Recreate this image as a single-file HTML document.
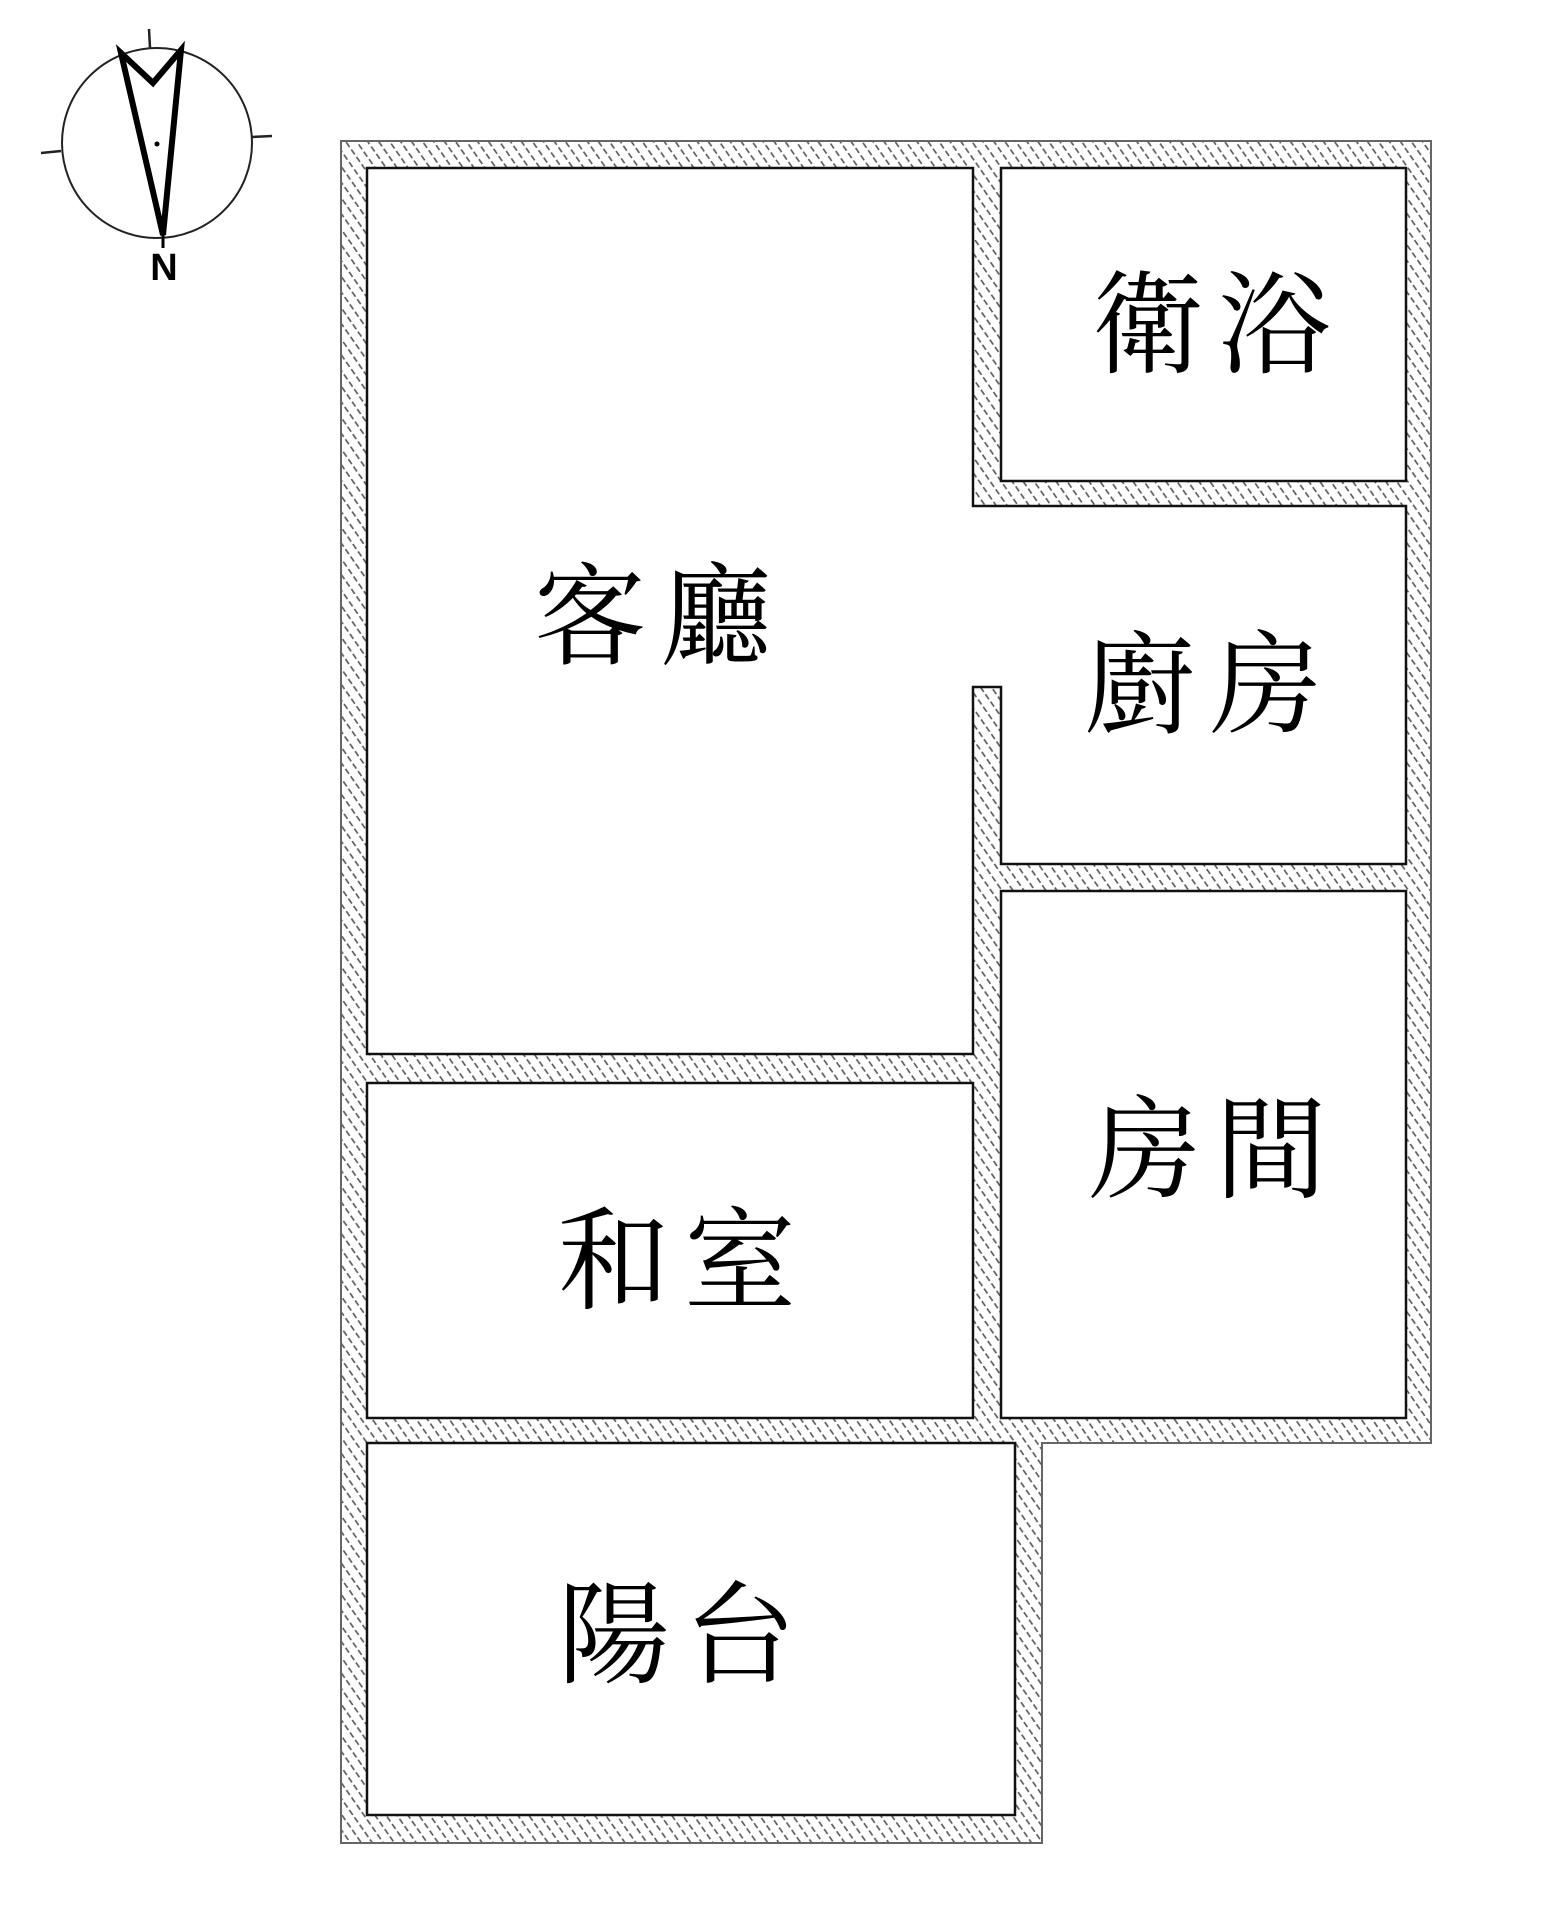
<!DOCTYPE html>
<html><head><meta charset="utf-8"><style>
html,body{margin:0;padding:0;background:#fff;}
svg{display:block;}
.lbl{font-family:"Liberation Serif","Noto Serif CJK SC",serif;font-size:112px;fill:#000;text-anchor:middle;dominant-baseline:central;letter-spacing:14px;}
</style></head><body>
<svg width="1542" height="1920" viewBox="0 0 1542 1920" xmlns="http://www.w3.org/2000/svg">
<defs>
<pattern id="h" width="9" height="9" patternUnits="userSpaceOnUse" patternTransform="rotate(-35)">
<rect width="9" height="9" fill="#fff"/>
<line x1="4" y1="0" x2="4" y2="6" stroke="#555" stroke-width="1.6"/>
</pattern>
</defs>
<path d="M341,141 H1431 V1443 H1042 V1843 H341 Z" fill="url(#h)" stroke="#666" stroke-width="2"/>
<path d="M367,168 H973 V506 H1406 V864 H1001 V687 H973 V1054 H367 Z" fill="#fff" stroke="#111" stroke-width="2.5"/>
<rect x="1001" y="168" width="405" height="313" fill="#fff" stroke="#111" stroke-width="2.5"/>
<rect x="1001" y="891" width="405" height="527" fill="#fff" stroke="#111" stroke-width="2.5"/>
<rect x="367" y="1083" width="606" height="335" fill="#fff" stroke="#111" stroke-width="2.5"/>
<rect x="367" y="1443" width="648" height="372" fill="#fff" stroke="#111" stroke-width="2.5"/>

<text class="lbl" x="1218" y="327">衛浴</text>
<text class="lbl" x="660" y="619">客廳</text>
<text class="lbl" x="1210" y="687">廚房</text>
<text class="lbl" x="1215" y="1152">房間</text>
<text class="lbl" x="684" y="1263">和室</text>
<text class="lbl" x="684" y="1637">陽台</text>

<circle cx="157" cy="143" r="95" fill="none" stroke="#222" stroke-width="2"/>
<line x1="149" y1="29" x2="150" y2="48" stroke="#222" stroke-width="2.5"/>
<line x1="41" y1="153" x2="61" y2="151" stroke="#222" stroke-width="2.5"/>
<line x1="252" y1="137" x2="272" y2="136" stroke="#222" stroke-width="2.5"/>
<polygon points="121,53 153,83 181,50 163,235" fill="none" stroke="#000" stroke-width="6" stroke-linejoin="miter"/>
<circle cx="157" cy="144" r="2.5" fill="#000"/>
<line x1="163" y1="235" x2="163" y2="248" stroke="#000" stroke-width="3"/>
<text x="164" y="280" font-family="Liberation Sans, sans-serif" font-size="38" font-weight="bold" text-anchor="middle" fill="#000">N</text>
</svg>
</body></html>
